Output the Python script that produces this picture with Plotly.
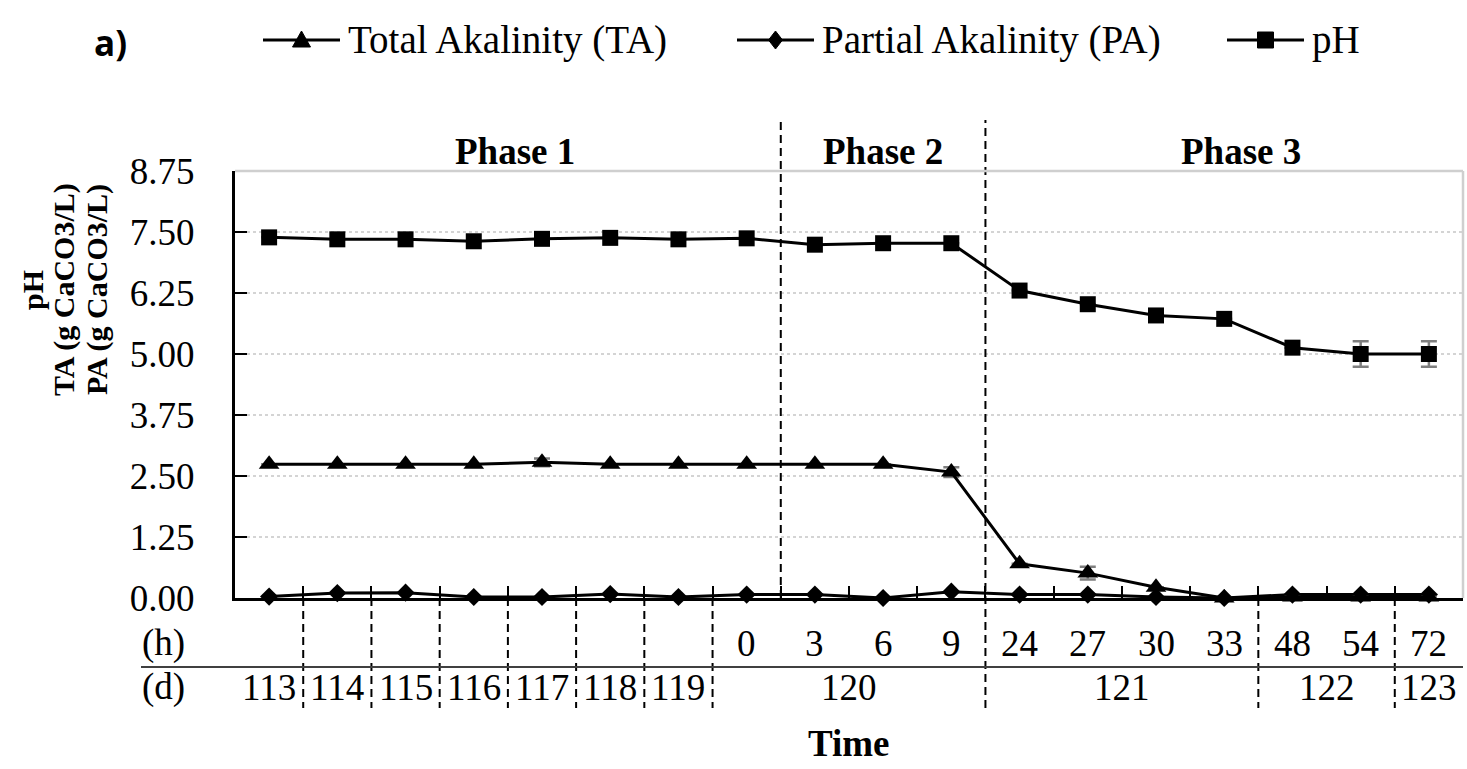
import plotly.graph_objects as go

# ---- data ----
day_labels = ["113", "114", "115", "116", "117", "118", "119", "120", "121", "122", "123"]
day_points = [1, 1, 1, 1, 1, 1, 1, 4, 4, 2, 1]          # samples taken on each day
hour_labels = ["", "", "", "", "", "", "", "0", "3", "6", "9",
               "24", "27", "30", "33", "48", "54", "72"]

ph = [7.39, 7.35, 7.35, 7.31, 7.36, 7.38, 7.35, 7.37, 7.24, 7.27, 7.27,
      6.30, 6.02, 5.79, 5.72, 5.13, 5.00, 5.00]
ph_err = [0, 0, 0, 0, 0, 0, 0, 0, 0, 0, 0, 0, 0, 0, 0, 0, 0.26, 0.26]

ta = [2.74, 2.74, 2.74, 2.74, 2.78, 2.74, 2.74, 2.74, 2.74, 2.74, 2.58,
      0.70, 0.51, 0.22, 0.00, 0.02, 0.02, 0.02]
ta_err = [0, 0, 0, 0, 0.08, 0, 0, 0, 0, 0, 0.10, 0, 0.13, 0, 0, 0, 0, 0]

pa = [0.03, 0.10, 0.11, 0.02, 0.02, 0.08, 0.02, 0.07, 0.07, 0.00, 0.13,
      0.07, 0.07, 0.02, 0.00, 0.07, 0.07, 0.07]

series_names = ["Total Akalinity (TA)", "Partial Akalinity (PA)", "pH"]
phase_labels = ["Phase 1", "Phase 2", "Phase 3"]
phase_bounds = [7.5, 10.5]               # between 0 h / 3 h and 9 h / 24 h
y_ticks = [0, 1.25, 2.5, 3.75, 5.0, 6.25, 7.5, 8.75]

SERIF = "Liberation Serif"
FS = 37
x = list(range(len(hour_labels)))

# plot-area geometry (pixels) used to place the key and the outer labels
L, R, T, B = 235, 1463, 171, 598
def px_x(p):
    return (p - L) / (R - L)
def px_y(p):
    return (B - p) / (B - T)

fig = go.Figure()

common = dict(mode="lines+markers", cliponaxis=False, showlegend=False,
              line=dict(color="black", width=3))

fig.add_trace(go.Scatter(
    x=x, y=pa, name=series_names[1],
    marker=dict(symbol="diamond", size=14, color="black"), **common))
fig.add_trace(go.Scatter(
    x=x, y=ta, name=series_names[0],
    error_y=dict(type="data", array=ta_err, color="#7f7f7f", thickness=2.5, width=8),
    marker=dict(symbol="triangle-up", size=18, color="black"), **common))
fig.add_trace(go.Scatter(
    x=x, y=ph, name=series_names[2],
    error_y=dict(type="data", array=ph_err, color="#7f7f7f", thickness=2.5, width=8),
    marker=dict(symbol="square", size=16, color="black"), **common))

shapes = []
dash = "8px,5px"
# phase boundaries
shapes.append(dict(type="line", xref="x", yref="paper", x0=phase_bounds[0], x1=phase_bounds[0],
                   y0=0, y1=px_y(120), line=dict(color="black", width=2, dash=dash)))
shapes.append(dict(type="line", xref="x", yref="paper", x0=phase_bounds[1], x1=phase_bounds[1],
                   y0=px_y(708), y1=px_y(120), line=dict(color="black", width=2, dash=dash)))
# day boundaries below the axis
edge = -0.5
for n in day_points[:-1]:
    edge += n
    if edge != phase_bounds[1]:
        shapes.append(dict(type="line", xref="x", yref="paper", x0=edge, x1=edge,
                           y0=0, y1=px_y(708), line=dict(color="black", width=2, dash=dash)))
# rule between hour and day rows
shapes.append(dict(type="line", xref="paper", yref="paper", x0=px_x(141), x1=1.0,
                   y0=px_y(667), y1=px_y(667), line=dict(color="#404040", width=2)))
# light top and right frame
shapes.append(dict(type="line", xref="paper", yref="paper", x0=0, x1=1, y0=1, y1=1,
                   line=dict(color="#cfcfcf", width=2.5)))
shapes.append(dict(type="line", xref="paper", yref="paper", x0=1, x1=1, y0=0, y1=1,
                   line=dict(color="#cfcfcf", width=2.5)))

# key: line + marker + label for each series
key_y = px_y(40)
key_start = [263, 737, 1227]
key_marks = [
    "M-9,-7 L9,-7 L0,9 Z",          # triangle
    "M0,-9 L7,0 L0,9 L-7,0 Z",      # diamond
    "M-8,-8 L8,-8 L8,8 L-8,8 Z",    # square
]
ann = []
font = dict(family=SERIF, size=FS, color="black")
bold = dict(family=SERIF, size=FS, color="black", weight="bold")
for name, x0, mk in zip(series_names, key_start, key_marks):
    shapes.append(dict(type="line", xref="paper", yref="paper",
                       x0=px_x(x0), x1=px_x(x0 + 77), y0=key_y, y1=key_y,
                       line=dict(color="black", width=3)))
    shapes.append(dict(type="path", xref="paper", yref="paper",
                       xsizemode="pixel", ysizemode="pixel",
                       xanchor=px_x(x0 + 38.5), yanchor=key_y, path=mk,
                       fillcolor="black", line=dict(color="black", width=1)))
    ann.append(dict(x=px_x(x0 + 83), y=key_y, xref="paper", yref="paper", text=name,
                    showarrow=False, font=dict(family=SERIF, size=39, color="black"),
                    xanchor="left", yanchor="middle"))

for i, h in enumerate(hour_labels):
    if h:
        ann.append(dict(x=i, y=px_y(643), xref="x", yref="paper", text=h,
                        showarrow=False, font=font, xanchor="center", yanchor="middle"))
start = 0
for lab, n in zip(day_labels, day_points):
    ann.append(dict(x=start + (n - 1) / 2, y=px_y(687), xref="x", yref="paper", text=lab,
                    showarrow=False, font=font, xanchor="center", yanchor="middle"))
    start += n
for lab, yy in [("(h)", 643), ("(d)", 687)]:
    ann.append(dict(x=px_x(163), y=px_y(yy), xref="paper", yref="paper", text=lab,
                    showarrow=False, font=font, xanchor="center", yanchor="middle"))

for lab, xx in zip(phase_labels, [3.6, 9.0, 14.25]):
    ann.append(dict(x=xx, y=px_y(152), xref="x", yref="paper", text=lab,
                    showarrow=False, font=bold, xanchor="center", yanchor="middle"))

ann.append(dict(x=0.5, y=px_y(743), xref="paper", yref="paper", text="Time",
                showarrow=False, font=bold, xanchor="center", yanchor="middle"))
ann.append(dict(x=px_x(110), y=px_y(43), xref="paper", yref="paper", text="a)",
                showarrow=False, xanchor="center", yanchor="middle",
                font=dict(family="Open Sans", size=35, color="black", weight="bold")))

for txt, xx in zip(["pH", "TA (g CaCO3/L)", "PA (g CaCO3/L)"], [32, 64, 97]):
    ann.append(dict(x=px_x(xx), y=px_y(290), xref="paper", yref="paper", text=txt,
                    textangle=-90, showarrow=False, xanchor="center", yanchor="middle",
                    font=dict(family=SERIF, size=30, color="black", weight="bold")))

fig.update_layout(
    width=1467, height=769,
    font=dict(family=SERIF, size=FS, color="black"),
    margin=dict(l=L, r=1467 - R, t=T, b=769 - B),
    plot_bgcolor="white", paper_bgcolor="white",
    showlegend=False,
    xaxis=dict(range=[-0.5, len(hour_labels) - 0.5], showgrid=False, zeroline=False,
               showline=True, linecolor="black", linewidth=3,
               tickmode="array", tickvals=[i + 0.5 for i in range(len(hour_labels) - 1)],
               ticks="inside", ticklen=12, tickwidth=2, tickcolor="black",
               showticklabels=False, fixedrange=True),
    yaxis=dict(range=[0, 8.75], tickmode="array", tickvals=y_ticks,
               ticktext=[f"{v:.2f}" for v in y_ticks],
               ticks="inside", ticklen=12, tickwidth=2, tickcolor="black",
               showline=True, linecolor="black", linewidth=3,
               showgrid=True, gridcolor="#d4d4d4", gridwidth=2, griddash="dot",
               zeroline=False, tickfont=font, ticklabelstandoff=30, fixedrange=True),
    shapes=shapes,
    annotations=ann,
)

fig.write_html("out.html")
